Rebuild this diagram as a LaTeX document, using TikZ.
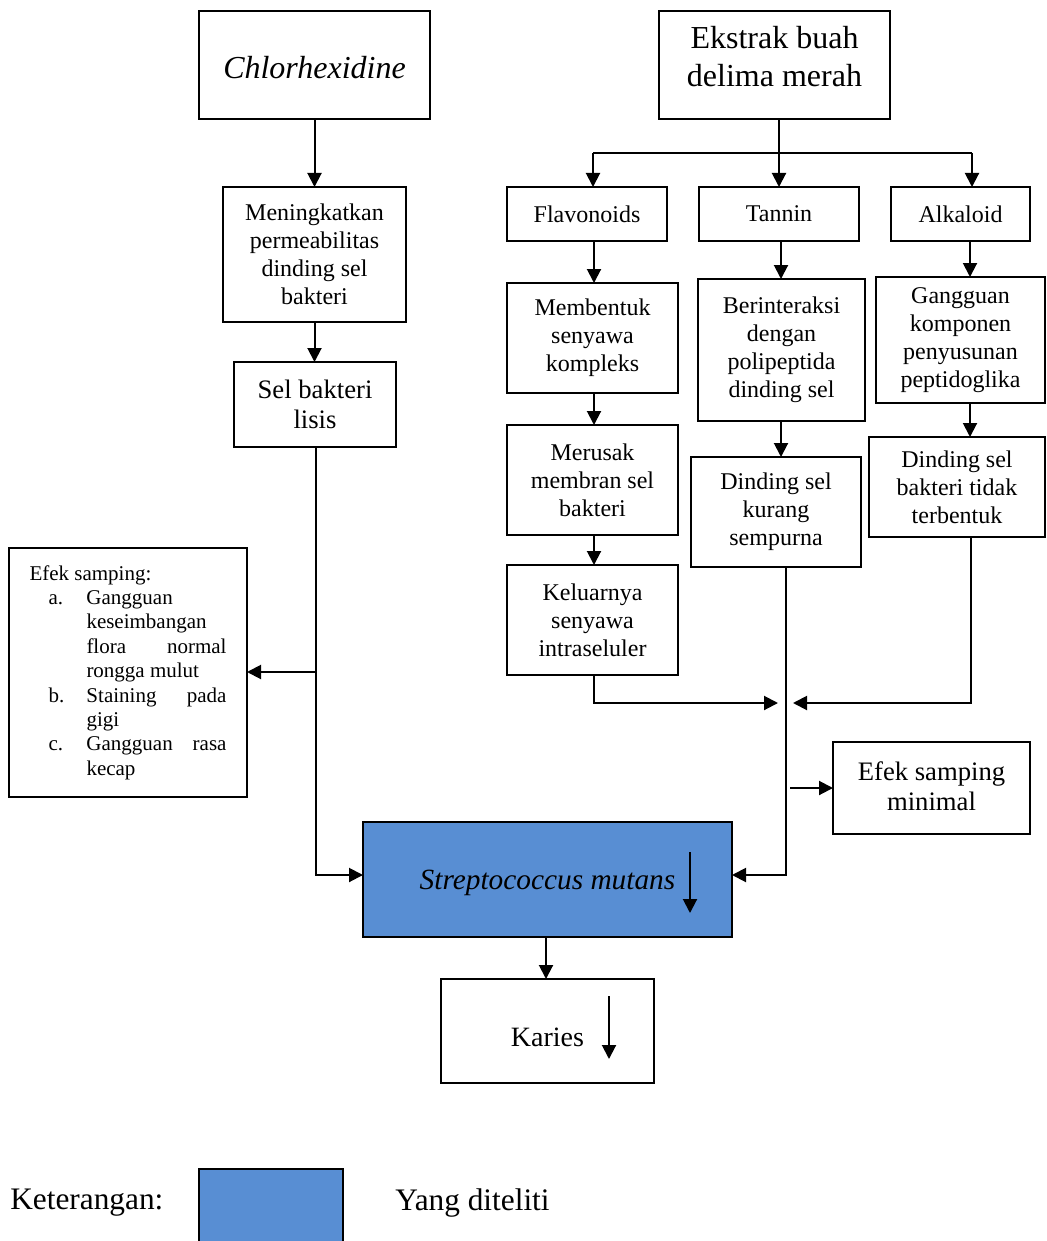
\documentclass[tikz,border=0pt]{standalone}
\usepackage{fontspec}
\setmainfont{Liberation Serif}
\usetikzlibrary{arrows.meta,calc}
\definecolor{stblue}{RGB}{88,142,211}
\newcommand\fs[2]{\fontsize{#1}{#2}\selectfont}
\newcommand\mv[2]{\raisebox{#1}[\height][\depth]{#2}}
\newcommand\bx[7][]{\node[box,#1,minimum width={(#5-#3)*0.75pt},minimum height={(#6-#4)*0.75pt}] (#2) at ({(#3+#5)/2},{(#4+#6)/2}) {#7};}
\begin{document}
\begin{tikzpicture}[x=0.75pt,y=-0.75pt,
  box/.style={draw,line width=1.3pt,inner sep=0pt,outer sep=0pt,align=center,font=\fs{18}{21}},
  ln/.style={line width=1.5pt},
  arr/.style={line width=1.5pt,-{Triangle[length=10.5pt,width=10.5pt]}},
  lbl/.style={anchor=west,inner sep=0pt,font=\fs{23.5}{28}}]
\fill[white] (0,0) rectangle (1046,1241);
\useasboundingbox (0,0) rectangle (1046,1241);
% boxes
\bx[font=\fs{24}{28}\itshape]{chx}{199}{11}{430}{119}{\mv{-2.25pt}{Chlorhexidine}}
\bx[font=\fs{24}{28.5}]{eks}{659}{11}{890}{119}{\mv{3.75pt}{\begin{tabular}{@{}c@{}}Ekstrak buah\\delima merah\end{tabular}}}
\bx{men}{223}{187}{406}{322}{Meningkatkan\\permeabilitas\\dinding sel\\bakteri}
\bx[font=\fs{20}{23}]{sel}{234}{362}{396}{447}{Sel bakteri\\lisis}
\bx{fla}{507}{187}{667}{241}{Flavonoids}
\bx{tan}{699}{187}{859}{241}{Tannin}
\bx{alk}{891}{187}{1030}{241}{Alkaloid}
\bx{mem}{507}{283}{678}{393}{Membentuk\\senyawa\\kompleks}
\bx{mer}{507}{425}{678}{535}{Merusak\\membran sel\\bakteri}
\bx{kel}{507}{565}{678}{675}{Keluarnya\\senyawa\\intraseluler}
\bx{ber}{698}{279}{865}{421}{Berinteraksi\\dengan\\polipeptida\\dinding sel}
\bx{din}{691}{457}{861}{567}{Dinding sel\\kurang\\sempurna}
\bx{gan}{876}{277}{1045}{403}{Gangguan\\komponen\\penyusunan\\peptidoglika}
\bx{dsb}{869}{437}{1045}{537}{Dinding sel\\bakteri tidak\\terbentuk}
\bx[font=\fs{20}{23}]{efm}{833}{742}{1030}{834}{\mv{-1pt}{\begin{tabular}{@{}c@{}}Efek samping\\minimal\end{tabular}}}
\bx[fill=stblue,font=\fs{22}{26}\itshape]{str}{363}{822}{732}{937}{\mv{-2.25pt}{Streptococcus mutans}}
\bx[font=\fs{21}{25}]{kar}{441}{979}{654}{1083}{\mv{-4.5pt}{Karies}}
\bx[font=\fs{15.75}{18.3},align=left]{efs}{9}{548}{247}{797}{Efek samping:\\
\hspace*{14.25pt}\makebox[28.5pt][l]{a.}Gangguan\\
\hspace*{42.75pt}keseimbangan\\
\hspace*{42.75pt}\makebox[105pt][s]{flora\hfill normal}\\
\hspace*{42.75pt}rongga mulut\\
\hspace*{14.25pt}\makebox[28.5pt][l]{b.}\makebox[105pt][s]{Staining\hfill pada}\\
\hspace*{42.75pt}gigi\\
\hspace*{14.25pt}\makebox[28.5pt][l]{c.}\makebox[105pt][s]{Gangguan\hfill rasa}\\
\hspace*{42.75pt}kecap}
\bx[fill=stblue]{leg}{199}{1169}{343}{1243}{}
\node[lbl] (ket) at (10,1203) {Keterangan:};
\node[lbl] (yd) at (395,1203) {Yang diteliti};
% coordinates
\coordinate (br) at (779,153);
\coordinate (j) at (786,703);
% connectors
\draw[arr] (chx.south) -- (chx.south |- men.north);
\draw[arr] (men.south) -- (men.south |- sel.north);
\draw[ln] (eks.south -| br) -- (br);
\draw[ln] (593,153) -- (972,153);
\draw[arr] (593,153) -- (fla.north -| 593,0);
\draw[arr] (br) -- (tan.north -| br);
\draw[arr] (972,153) -- (alk.north -| 972,0);
\draw[arr] (fla.south -| 594,0) -- (mem.north -| 594,0);
\draw[arr] (mem.south -| 594,0) -- (mer.north -| 594,0);
\draw[arr] (mer.south -| 594,0) -- (kel.north -| 594,0);
\draw[arr] (tan.south -| 781,0) -- (ber.north -| 781,0);
\draw[arr] (ber.south -| 781,0) -- (din.north -| 781,0);
\draw[arr] (alk.south -| 970,0) -- (gan.north -| 970,0);
\draw[arr] (gan.south -| 970,0) -- (dsb.north -| 970,0);
\draw[arr] (kel.south -| 594,0) |- ($(j)+(-8,0)$);
\draw[arr] (dsb.south -| 971,0) |- ($(j)+(7,0)$);
\draw[arr] (din.south -| j) -- (786,875) -- (str.east |- 0,875);
\draw[arr] (efm.west -| 790,0) -- (efm.west);
\draw[arr] (sel.south -| 316,0) -- (316,875) -- (str.west |- 0,875);
\draw[arr] (316,672) -- (efs.east |- 0,672);
\draw[arr] (str.south -| 546,0) -- (kar.north -| 546,0);
% down arrows inside boxes
\coordinate (sa1) at (690,852);
\coordinate (sa2) at (690,913);
\coordinate (ka1) at (609,996);
\coordinate (ka2) at (609,1059);
\draw[arr] (sa1) -- (sa2);
\draw[arr] (ka1) -- (ka2);
\end{tikzpicture}
\end{document}
